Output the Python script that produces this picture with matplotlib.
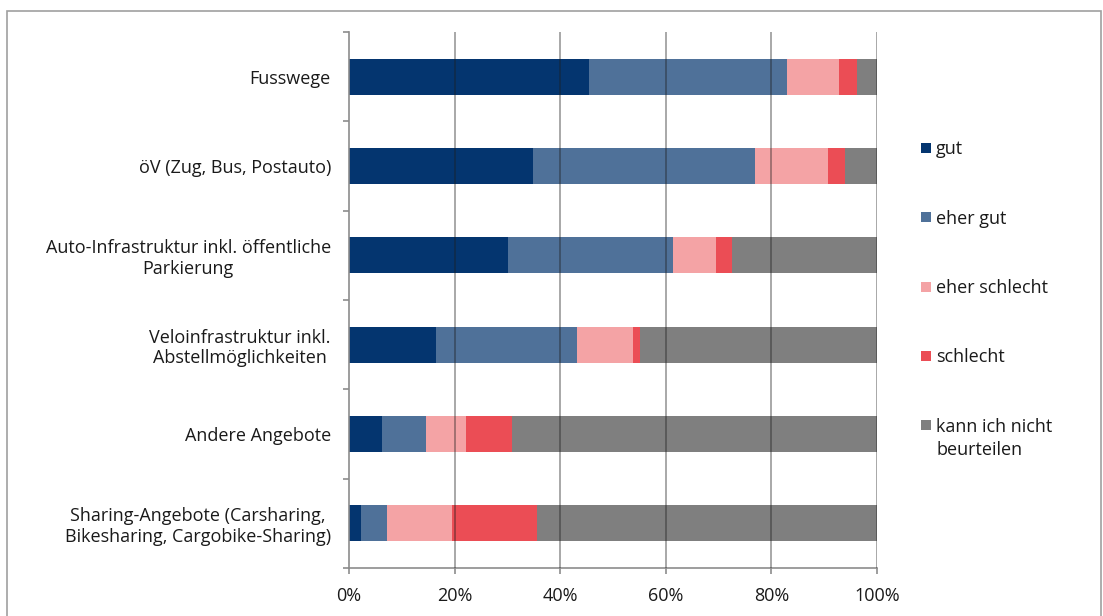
import numpy as np
import matplotlib.pyplot as plt
from matplotlib.patches import Rectangle
from matplotlib.ticker import FixedLocator

plt.rcParams['font.family'] = ['Open Sans', 'DejaVu Sans']

categories = [
    'Fusswege',
    'öV (Zug, Bus, Postauto)',
    'Auto-Infrastruktur inkl. öffentliche\nParkierung',
    'Veloinfrastruktur inkl.\nAbstellmöglichkeiten',
    'Andere Angebote',
    'Sharing-Angebote (Carsharing,\nBikesharing, Cargobike-Sharing)',
]
series_names = ['gut', 'eher gut', 'eher schlecht', 'schlecht', 'kann ich nicht\nbeurteilen']
x_ticks = [0, 20, 40, 60, 80, 100]

# shares in percent
gut = [45.5, 34.8, 30.1, 16.4, 6.2, 2.2]
eher_gut = [37.4, 42.0, 31.2, 26.7, 8.4, 5.0]
eher_schlecht = [9.9, 13.9, 8.2, 10.6, 7.6, 12.4]
schlecht = [3.5, 3.3, 3.0, 1.4, 8.7, 16.0]
weiss_nicht = [3.7, 6.0, 27.5, 44.9, 69.1, 64.4]

colors = ['#04356F', '#4F7199', '#F4A3A5', '#EB4D55', '#7F7F7F']
grid_col = '#8C8C8C'
txt_col = '#1A1A1A'
fs = 13

W, H = 1103, 616
fig = plt.figure(figsize=(W / 100, H / 100), dpi=100)
ax = fig.add_axes([349 / W, 48 / H, 528 / W, 536 / H])

y = np.arange(len(categories))
left = np.zeros(len(categories))
for name, vals, col in zip(series_names,
                           [gut, eher_gut, eher_schlecht, schlecht, weiss_nicht],
                           colors):
    ax.barh(y, vals, left=left, height=0.40, color=col, label=name, zorder=2)
    left += np.array(vals)

ax.set_xlim(0, 100)
ax.set_ylim(len(categories) - 0.5, -0.5)

# vertical gridlines drawn over the bars, a bit see-through
for xv in x_ticks[1:]:
    ax.axvline(xv, color='#1E1E1E', alpha=0.45, linewidth=1.2, zorder=3)

ax.set_xticks(x_ticks)
ax.set_xticklabels([f'{v}%' for v in x_ticks])
ax.set_yticks(y)
ax.set_yticklabels(categories, ha='right', multialignment='center')
ax.yaxis.set_minor_locator(FixedLocator(np.arange(-0.5, len(categories), 1.0)))

ax.tick_params(axis='y', which='major', length=0, pad=13, labelsize=fs, colors=txt_col)
ax.tick_params(axis='y', which='minor', length=4, width=1.2, color=grid_col, direction='out')
ax.tick_params(axis='x', which='major', length=4, width=1.2, color=grid_col,
               direction='out', pad=9.5, labelsize=fs, labelcolor=txt_col)

for s in ['top', 'right']:
    ax.spines[s].set_visible(False)
for s in ['left', 'bottom']:
    ax.spines[s].set_color(grid_col)
    ax.spines[s].set_linewidth(1.2)

# legend: square marker beside the first line of each label
leg_y0, leg_step = 148, 69.25
for i, (name, col) in enumerate(zip(series_names, colors)):
    yc = leg_y0 + i * leg_step
    fig.add_artist(Rectangle((921 / W, 1 - (yc + 5) / H), 10 / W, 10 / H,
                             transform=fig.transFigure, facecolor=col, edgecolor='none'))
    fig.text(936 / W, 1 - (yc - 7.5) / H, name, ha='left', va='top',
             fontsize=fs, color=txt_col, linespacing=1.42)

# light outer frame around the whole chart
fig.add_artist(Rectangle((7 / W, -0.1), 1094 / W, 1.1 - 11 / H,
                         transform=fig.transFigure, fill=False,
                         edgecolor='#A0A0A0', linewidth=1.2))

fig.savefig('out.png', dpi=100)
